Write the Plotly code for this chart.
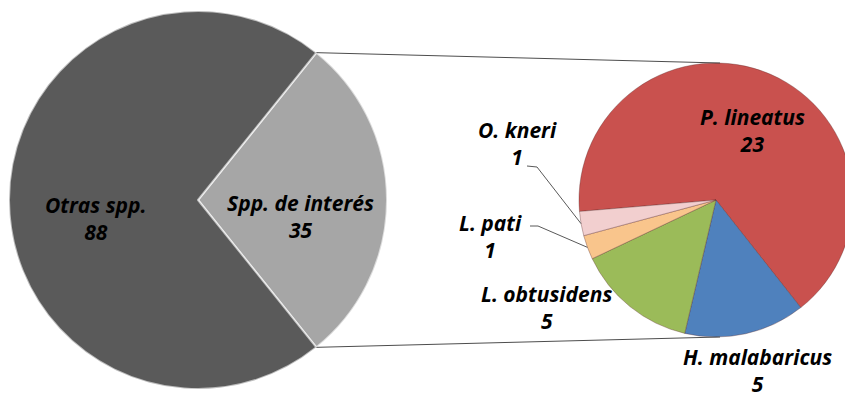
import math
import plotly.graph_objects as go

# ---------------- data ----------------
main_labels = ["Spp. de interés", "Otras spp."]
main_values = [35, 88]
main_colors = ["#a6a6a6", "#5a5a5a"]

sub_labels = ["P. lineatus", "H. malabaricus", "L. obtusidens", "L. pati", "O. kneri"]
sub_values = [23, 5, 5, 1, 1]
sub_colors = ["#c9514e", "#4f81bd", "#9bbb59", "#f9c58c", "#f2cfcf"]

# ---------------- geometry (page pixels) ----------------
PAGE_W, PAGE_H = 853, 400
OFF = 8                                   # default body margin of the html page
W, H = PAGE_W - OFF, PAGE_H - OFF         # figure size

L_CX, L_CY, L_R = 198, 200, 189           # left pie
R_X0, R_X1 = 579, PAGE_W                  # right pie domain extent
R_Y0, R_Y1 = 57, 343
R_R = min(R_X1 - R_X0, R_Y1 - R_Y0) / 2
R_CX, R_CY = (R_X0 + R_X1) / 2, (R_Y0 + R_Y1) / 2


def px(x):
    return (x - OFF) / W


def py(y):
    return 1 - (y - OFF) / H


FONT = "Open Sans"
FS = 21

main_total = sum(main_values)
half = main_values[0] / main_total * 180.0      # half-angle of the detailed wedge
main_rotation = 90 - half

sub_total = sum(sub_values)
sub_rotation = 265.2                            # P. lineatus starts just below 9 o'clock

fig = go.Figure()
fig.add_trace(go.Pie(
    labels=main_labels, values=main_values, sort=False,
    direction="clockwise", rotation=main_rotation,
    marker=dict(colors=main_colors, line=dict(color="rgba(255,255,255,0.6)", width=2)),
    textinfo="none", hoverinfo="label+value", showlegend=False,
    domain=dict(x=[px(L_CX - L_R), px(L_CX + L_R)], y=[py(L_CY + L_R), py(L_CY - L_R)]),
))
fig.add_trace(go.Pie(
    labels=sub_labels, values=sub_values, sort=False,
    direction="clockwise", rotation=sub_rotation,
    marker=dict(colors=sub_colors, line=dict(color="rgba(90,40,40,0.35)", width=1)),
    textinfo="none", hoverinfo="label+value", showlegend=False,
    domain=dict(x=[px(R_X0), px(R_X1)], y=[py(R_Y1), py(R_Y0)]),
))

shapes = []
t = math.radians(half)
tip_top = (L_CX + L_R * math.cos(t), L_CY - L_R * math.sin(t))
tip_bot = (L_CX + L_R * math.cos(t), L_CY + L_R * math.sin(t))
for (x0, y0), (x1, y1) in [(tip_top, (R_CX + 4, R_CY - R_R)), (tip_bot, (R_CX + 4, R_CY + R_R))]:
    shapes.append(dict(type="line", xref="paper", yref="paper",
                       x0=px(x0), y0=py(y0), x1=px(x1), y1=py(y1),
                       line=dict(color="#4d4d4d", width=1)))


def slice_mid_edge(idx):
    start = sub_rotation + sum(sub_values[:idx]) / sub_total * 360
    mid = start + sub_values[idx] / sub_total * 360 / 2
    a = math.radians(mid)
    return R_CX + R_R * math.sin(a), R_CY - R_R * math.cos(a)


leaders = [(4, (527, 166), (537, 167)), (3, (530, 226), (538, 226))]
for idx, p0, p1 in leaders:
    ex, ey = slice_mid_edge(idx)
    shapes.append(dict(type="path", xref="paper", yref="paper",
                       path=f"M {px(p0[0])},{py(p0[1])} L {px(p1[0])},{py(p1[1])} L {px(ex)},{py(ey)}",
                       line=dict(color="#595959", width=1)))

label_pos = {
    "Otras spp.": (96, 218),
    "Spp. de interés": (300, 216),
    "P. lineatus": (752, 131),
    "H. malabaricus": (757, 370),
    "L. obtusidens": (546, 307),
    "L. pati": (490, 237),
    "O. kneri": (517, 144),
}
values_by_label = dict(zip(main_labels + sub_labels, main_values + sub_values))

annotations = []
for name, (x, y) in label_pos.items():
    annotations.append(dict(
        x=px(x), y=py(y), xref="paper", yref="paper", showarrow=False,
        text=f"<b><i>{name}<br>{values_by_label[name]}</i></b>",
        font=dict(family=FONT, size=FS, color="#000000"),
        xanchor="center", yanchor="middle", align="center",
    ))

fig.update_layout(
    width=W, height=H, margin=dict(l=0, r=0, t=0, b=0),
    paper_bgcolor="white", plot_bgcolor="white",
    shapes=shapes, annotations=annotations, showlegend=False,
)
fig.write_html("out.html")
